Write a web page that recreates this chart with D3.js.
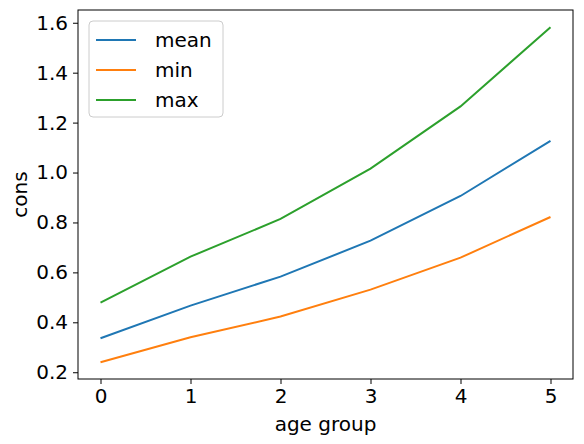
<!DOCTYPE html>
<html><head><meta charset="utf-8">
<script src="https://cdn.jsdelivr.net/npm/d3@7"></script>
<style>body{margin:0;background:#fff}svg{font-family:"DejaVu Sans",sans-serif}</style>
</head><body><svg id="c" width="584" height="444"></svg>
<script>
const ageGroups=[0,1,2,3,4,5];
const meanVals=[0.336,0.467,0.583,0.727,0.906,1.127];
const minVals=[0.240,0.340,0.423,0.531,0.659,0.822];
const maxVals=[0.479,0.663,0.814,1.016,1.265,1.582];
const yTicks=[0.2,0.4,0.6,0.8,1.0,1.2,1.4,1.6];
const series=[{name:"mean",vals:meanVals,color:"#1f77b4"},{name:"min",vals:minVals,color:"#ff7f0e"},{name:"max",vals:maxVals,color:"#2ca02c"}];
const L=78,R=573,T=10,B=379;
const svg=d3.select("#c");
const x=d3.scaleLinear().domain([-0.25,5.25]).range([L,R]);
const y=d3.scaleLinear().domain([0.1729,1.6511]).range([B,T]);
const xa=svg.append("g").attr("transform",`translate(0,${B})`).call(d3.axisBottom(x).tickValues(ageGroups).tickSize(5).tickPadding(5).tickFormat(d3.format("d")));
const ya=svg.append("g").attr("transform",`translate(${L},0)`).call(d3.axisLeft(y).tickValues(yTicks).tickSize(5).tickPadding(5).tickFormat(d3.format(".1f")));
[xa,ya].forEach(a=>{a.select(".domain").remove();a.selectAll("text").attr("font-size",20).attr("fill","#000").attr("font-family","DejaVu Sans");a.selectAll("line").attr("stroke","#000");});
svg.append("rect").attr("x",L).attr("y",T).attr("width",R-L).attr("height",B-T).attr("fill","none").attr("stroke","#000").attr("stroke-width",1);
const line=d3.line().x((d,i)=>x(ageGroups[i])).y(d=>y(d));
series.forEach(s=>svg.append("path").attr("d",line(s.vals)).attr("fill","none").attr("stroke",s.color).attr("stroke-width",2));
svg.append("text").attr("x",(L+R)/2).attr("y",431).attr("text-anchor","middle").attr("font-size",20).text("age group");
svg.append("text").attr("transform",`translate(27,${(T+B)/2}) rotate(-90)`).attr("text-anchor","middle").attr("font-size",20).text("cons");
const lg=svg.append("g");
lg.append("rect").attr("x",89).attr("y",21).attr("width",134).attr("height",96).attr("rx",4).attr("fill","#fff").attr("stroke","#ccc");
series.forEach((s,i)=>{const yy=40+i*30;
lg.append("line").attr("x1",96).attr("x2",136).attr("y1",yy).attr("y2",yy).attr("stroke",s.color).attr("stroke-width",2);
lg.append("text").attr("x",155).attr("y",yy+7).attr("font-size",20).text(s.name);});
</script></body></html>
